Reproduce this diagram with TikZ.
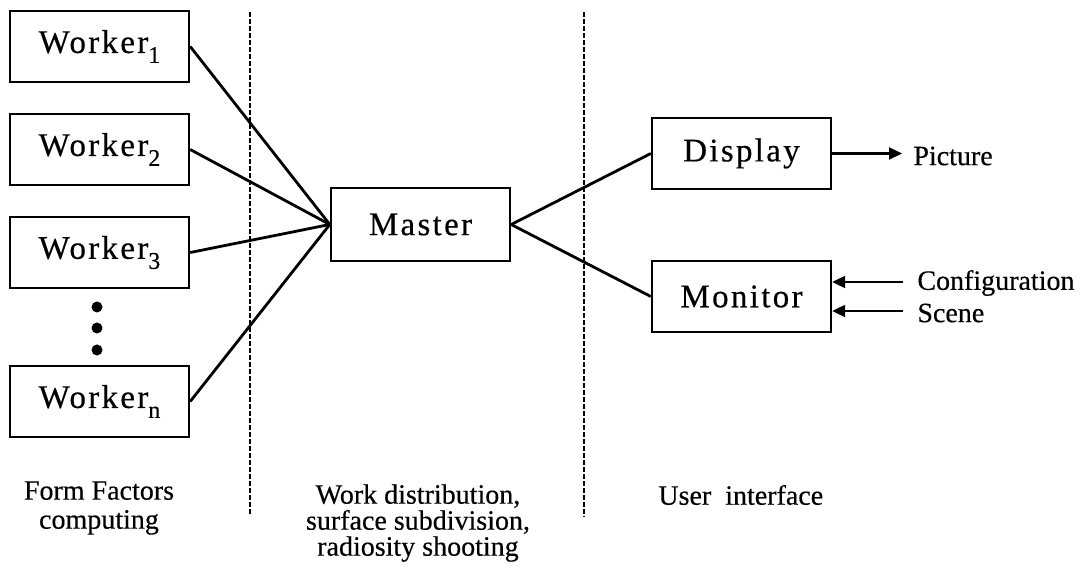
\documentclass[tikz,border=0pt]{standalone}
\usepackage{fontspec}
\setmainfont{Liberation Serif}[FakeBold=0.4]
\newfontfamily\boxfont{Liberation Serif}[LetterSpace=7,FakeBold=0.4]
\usetikzlibrary{arrows.meta}

% worker label with a low, fairly large index
\newcommand{\wlabel}[1]{Worker\raisebox{-5pt}{\fontsize{12}{12}\selectfont #1}}

\begin{document}
\begin{tikzpicture}[x=0.5pt,y=-0.5pt,
  unit/.style={draw,line width=1.2pt,minimum width=89.5pt,minimum height=35.5pt,
    inner sep=0pt,font=\boxfont\fontsize{16.5}{18}\selectfont},
  link/.style={line width=1.4pt},
  divider/.style={line width=0.6pt,dash pattern=on 2.5pt off 1pt},
  flow/.style={line width=1.1pt,-{Triangle[length=6.5pt,width=6pt]}},
  caption/.style={font=\fontsize{14}{14.5}\selectfont,align=center,inner sep=0pt},
  tag/.style={font=\fontsize{14}{16}\selectfont,anchor=west,inner sep=0pt},
  dot/.style={circle,fill,minimum size=5.5pt,inner sep=0pt}]

\useasboundingbox (0,0) rectangle (1089,572);

% section dividers
\coordinate (l1) at (250,12);  \coordinate (l2) at (250,515);
\coordinate (r1) at (584,12);  \coordinate (r2) at (584,517);
\draw[divider] (l1) -- (l2);
\draw[divider] (r1) -- (r2);

% workers
\node[unit] (w1) at (99.5,46.5)  {\wlabel{1}};
\node[unit] (w2) at (99.5,149.5) {\wlabel{2}};
\node[unit] (w3) at (99.5,252.5) {\wlabel{3}};
\node[unit] (wn) at (99.5,401.5) {\wlabel{n}};
\node[dot] (d1) at (97,307) {};
\node[dot] (d2) at (97,328) {};
\node[dot] (d3) at (97,350) {};

% master and user interface
\node[unit,minimum height=36.5pt] (master) at (420.5,224.5) {Master};
\node[unit] (display) at (741.5,153.5) {Display};
\node[unit] (monitor) at (741.5,296.5) {Monitor};

\foreach \w in {w1,w2,w3,wn}
  \draw[link] (\w.east) -- (master.west);
\draw[link] (master.east) -- (display.west);
\draw[link] (master.east) -- (monitor.west);

% inputs and outputs
\coordinate (picout) at (902,153.5);
\coordinate (cfgin) at (903,282);
\coordinate (scnin) at (903,311);
\draw[flow] (display.east) -- (picout);
\draw[flow] (cfgin) -- (cfgin -| monitor.east);
\draw[flow] (scnin) -- (scnin -| monitor.east);
\node[tag] (pic) at (913,156) {Picture};
\node[tag] (cfg) at (917,283) {Configuration};
\node[tag] (scn) at (917,313) {Scene};

% section captions
\node[caption] (c1) at (99,508) {Form Factors\\computing};
\node[caption,font=\fontsize{14}{13}\selectfont] (c2) at (418,523)
  {Work distribution,\\surface subdivision,\\radiosity shooting};
\node[caption,anchor=west] (c3) at (658,495) {User\ \ interface};
\end{tikzpicture}
\end{document}
